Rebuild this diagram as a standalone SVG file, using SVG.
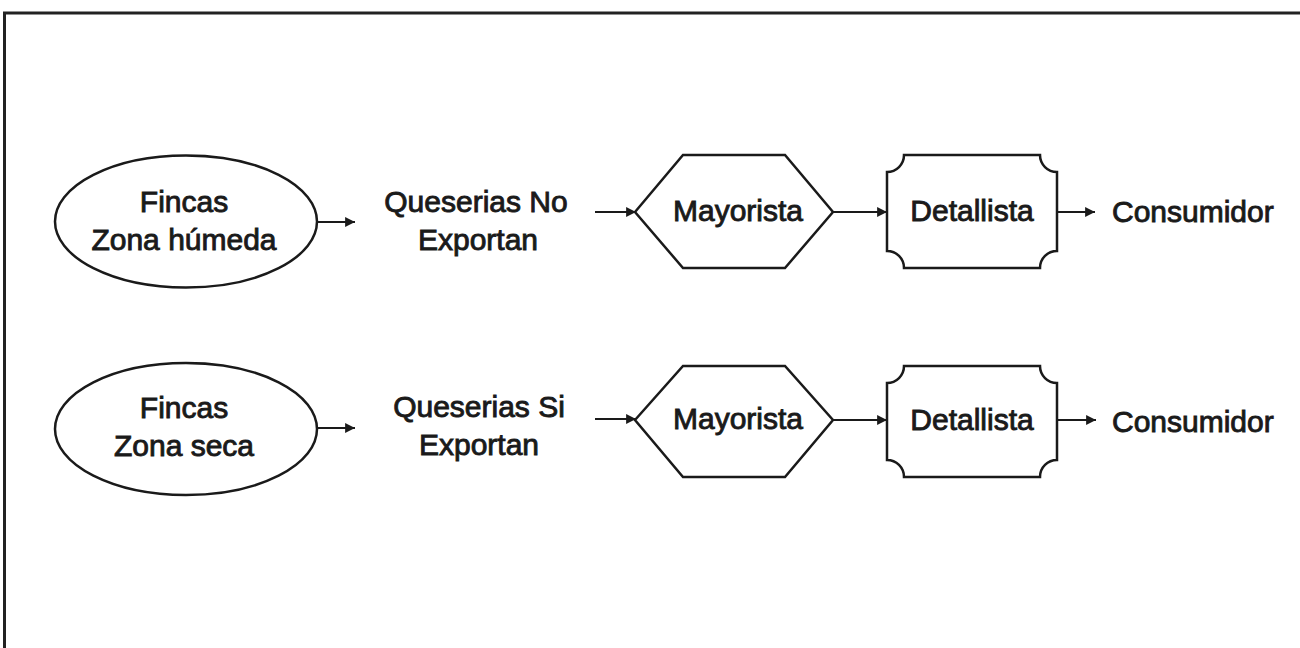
<svg xmlns="http://www.w3.org/2000/svg" width="1300" height="648" viewBox="0 0 1300 648">
<defs>
<style>
.shape{fill:#fff;stroke:#1a1a1a;stroke-width:2.5}
.lbl{font-family:"Liberation Sans",Arial,sans-serif;font-size:30px;fill:#1a1a1a;stroke:#1a1a1a;stroke-width:0.9;text-anchor:middle}
.start{text-anchor:start}
.conn{stroke:#1a1a1a;stroke-width:2.2;fill:none;marker-end:url(#ah)}
.frame{fill:none;stroke:#222;stroke-width:3}
</style>
<marker id="ah" viewBox="0 0 10 10" refX="10" refY="5" markerWidth="5.5" markerHeight="4.5" markerUnits="strokeWidth" orient="auto">
<path d="M0,0 L10,5 L0,10 Z" fill="#1a1a1a"/>
</marker>
</defs>
<rect width="1300" height="648" fill="#fff"/>
<path class="frame" d="M4.5,648 L4.5,13 L1300,13"/>

<g id="fincas-humeda">
<ellipse class="shape" cx="186" cy="221.5" rx="131" ry="66"/>
<text class="lbl" x="184" y="212">Fincas</text>
<text class="lbl" x="184" y="250">Zona húmeda</text>
</g>
<g id="queserias-no">
<text class="lbl" x="476" y="212">Queserias No</text>
<text class="lbl" x="478" y="250">Exportan</text>
</g>
<g id="mayorista-1">
<path class="shape" d="M635,212 L683,155 L785,155 L833,212 L785,268 L683,268 Z"/>
<text class="lbl" x="738" y="221">Mayorista</text>
</g>
<g id="detallista-1">
<path class="shape" d="M904,155 L1040,155 A17,17 0 0 0 1057,172 L1057,251 A17,17 0 0 0 1040,268 L904,268 A17,17 0 0 0 887,251 L887,172 A17,17 0 0 0 904,155 Z"/>
<text class="lbl" x="972" y="221">Detallista</text>
</g>
<g id="consumidor-1">
<text class="lbl start" x="1112" y="222">Consumidor</text>
</g>

<g id="fincas-seca">
<ellipse class="shape" cx="186" cy="429" rx="131" ry="66"/>
<text class="lbl" x="184" y="418">Fincas</text>
<text class="lbl" x="184" y="456">Zona seca</text>
</g>
<g id="queserias-si">
<text class="lbl" x="479" y="417">Queserias Si</text>
<text class="lbl" x="479" y="455">Exportan</text>
</g>
<g id="mayorista-2">
<path class="shape" d="M635,420 L683,366 L785,366 L833,420 L785,477 L683,477 Z"/>
<text class="lbl" x="738" y="429">Mayorista</text>
</g>
<g id="detallista-2">
<path class="shape" d="M904,366 L1040,366 A17,17 0 0 0 1057,383 L1057,460 A17,17 0 0 0 1040,477 L904,477 A17,17 0 0 0 887,460 L887,383 A17,17 0 0 0 904,366 Z"/>
<text class="lbl" x="972" y="430">Detallista</text>
</g>
<g id="consumidor-2">
<text class="lbl start" x="1112" y="432">Consumidor</text>
</g>

<g id="connectors">
<line class="conn" x1="317" y1="222" x2="355" y2="222"/>
<line class="conn" x1="595" y1="212" x2="636" y2="212"/>
<line class="conn" x1="833" y1="212" x2="887" y2="212"/>
<line class="conn" x1="1057" y1="212" x2="1095" y2="212"/>
<line class="conn" x1="317" y1="428" x2="355" y2="428"/>
<line class="conn" x1="595" y1="419" x2="636" y2="419"/>
<line class="conn" x1="833" y1="420" x2="887" y2="420"/>
<line class="conn" x1="1057" y1="420" x2="1096" y2="420"/>
</g>
</svg>
